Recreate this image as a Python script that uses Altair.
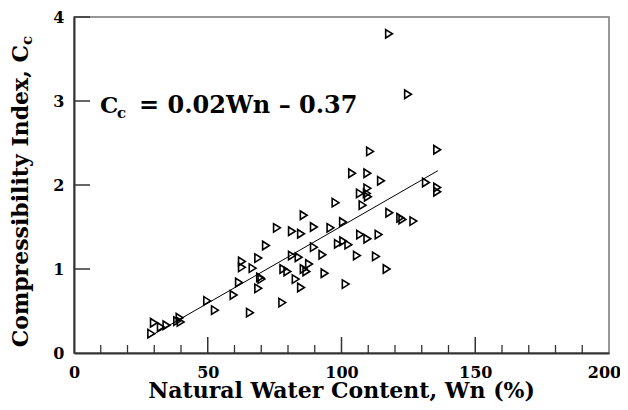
import altair as alt
import pandas as pd

# ---- data ----
wn = [28.8, 29.8, 32.4, 34.5, 38.5, 39.4, 39.8, 49.7, 52.6, 59.6,
      61.6, 62.7, 62.7, 66.7, 65.7, 68.8, 68.8, 69.5, 70.0, 71.7,
      75.8, 77.8, 78.2, 79.7, 81.4, 81.4, 82.8, 83.9, 84.8, 84.8,
      85.8, 85.8, 86.8, 87.8, 89.6, 89.6, 92.8, 93.6, 95.8, 97.7,
      98.6, 100.5, 100.6, 102.5, 101.5, 103.9, 105.7, 106.8, 106.9, 107.8,
      109.6, 109.6, 109.4, 109.8, 109.6, 110.6, 112.8, 113.8, 114.7, 116.8,
      117.8, 117.7, 121.9, 122.7, 126.8, 124.8, 131.5, 135.7, 135.7, 135.7]
cc = [0.23, 0.36, 0.31, 0.33, 0.38, 0.42, 0.37, 0.62, 0.51, 0.69,
      0.84, 1.09, 1.02, 1.01, 0.48, 1.13, 0.77, 0.90, 0.88, 1.28,
      1.49, 0.60, 1.00, 0.97, 1.45, 1.16, 0.88, 1.14, 1.42, 0.78,
      1.64, 1.00, 0.97, 1.06, 1.50, 1.26, 1.17, 0.95, 1.49, 1.79,
      1.30, 1.56, 1.33, 1.29, 0.82, 2.14, 1.16, 1.90, 1.41, 1.76,
      2.14, 1.96, 1.90, 1.86, 1.36, 2.40, 1.15, 1.41, 2.05, 1.00,
      1.67, 3.80, 1.61, 1.59, 1.57, 3.08, 2.03, 2.42, 1.97, 1.92]
fit_wn = [28, 136]
fit_cc = [0.19, 2.17]

x_labels = [0, 50, 100, 150, 200]
y_labels = [0, 1, 2, 3, 4]
x_minor = [10, 20, 30, 40, 60, 70, 80, 90, 110, 120, 130, 140, 160, 170, 180, 190]
x_major = [50, 100, 150]
y_major = [1, 2, 3, 4]

x_title = ["Natural Water Content, Wn (%)"]
y_title = ["Compressibility Index, C"]
y_title_sub = ["c"]
eq_main = ["C"]
eq_sub = ["c"]
eq_rest = ["= 0.02Wn \u2013 0.37"]

W, H = 535, 336
FONT = "DejaVu Serif"
INK = "#333333"

xs = alt.Scale(domain=[0, 200], nice=False, zero=False)
ys = alt.Scale(domain=[0, 4], nice=False, zero=False)

axis_common = dict(
    title=None, tickSize=0, labelFont=FONT, labelFontSize=16,
    labelFontWeight="bold", labelColor="black", domainColor=INK,
    domainWidth=2, grid=False, labelFlush=False, labelOverlap=False,
    format="d",
)

pts = alt.Chart(pd.DataFrame({"wn": wn, "cc": cc})).mark_point(
    shape="M-0.75,-1L0.85,0L-0.75,1Z", size=72, filled=False,
    stroke="black", strokeWidth=1.6, opacity=1
).encode(
    x=alt.X("wn:Q", scale=xs, axis=alt.Axis(
        values=x_labels, labelPadding=11,
        labelOffset=alt.ExprRef(expr="datum.value == 200 ? -5 : 0"),
        **axis_common)),
    y=alt.Y("cc:Q", scale=ys, axis=alt.Axis(values=y_labels, labelPadding=10, **axis_common)),
)

fit = alt.Chart(pd.DataFrame({"wn": fit_wn, "cc": fit_cc})).mark_line(
    color="black", strokeWidth=1
).encode(x=alt.X("wn:Q", scale=xs), y=alt.Y("cc:Q", scale=ys))

xminor = alt.Chart(pd.DataFrame({"v": x_minor})).mark_rule(color=INK, strokeWidth=1.3).encode(
    x=alt.X("v:Q", scale=xs), y=alt.value(H), y2=alt.value(H - 8))
xmajor = alt.Chart(pd.DataFrame({"v": x_major})).mark_rule(color=INK, strokeWidth=1.5).encode(
    x=alt.X("v:Q", scale=xs), y=alt.value(H), y2=alt.value(H - 16))
ymajor = alt.Chart(pd.DataFrame({"v": y_major})).mark_rule(color=INK, strokeWidth=1.5).encode(
    y=alt.Y("v:Q", scale=ys), x=alt.datum(0, scale=xs), x2=alt.datum(6))


def txt(values, x, y, size, **kw):
    return alt.Chart(pd.DataFrame({"t": values})).mark_text(
        font=FONT, fontWeight="bold", fontSize=size, color="black", **kw
    ).encode(text="t:N", x=alt.value(x), y=alt.value(y))


xt = txt(x_title, W / 2, 381, 22, align="center", baseline="alphabetic")
yt = txt(y_title, -46, 28, 22, align="right", baseline="alphabetic", angle=270)
yts = txt(y_title_sub, -46, 28, 15, align="left", baseline="alphabetic", angle=270, dy=4)
e1 = txt(eq_main, 26, 96, 23, align="left", baseline="alphabetic")
e2 = txt(eq_sub, 43, 101, 15, align="left", baseline="alphabetic")
e3 = txt(eq_rest, 65, 96, 24, align="left", baseline="alphabetic")

chart = alt.layer(pts, fit, xminor, xmajor, ymajor, xt, yt, yts, e1, e2, e3).properties(
    width=W, height=H,
    autosize=alt.AutoSizeParams(type="none"),
    padding={"left": 66, "top": 9, "right": 11, "bottom": 49},
    background="white",
).configure_view(stroke="#777777", strokeWidth=1.5)

chart.save("out.html", embed_options={"renderer": "svg", "actions": False})
